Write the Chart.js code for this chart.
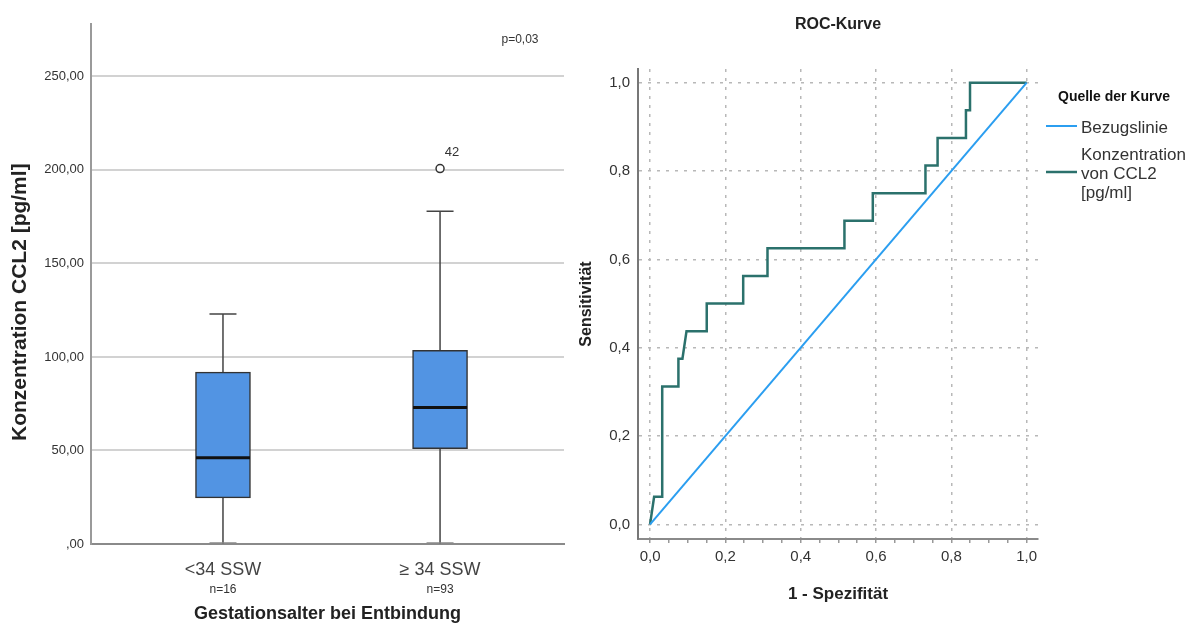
<!DOCTYPE html>
<html>
<head>
<meta charset="utf-8">
<script src="https://cdn.jsdelivr.net/npm/chart.js@4/dist/chart.umd.min.js"></script>
<style>
  body { margin: 0; background: #fff; width: 1188px; height: 626px; overflow: hidden; position: relative; }
  canvas { position: absolute; top: 0; }
  #box { left: 0; }
  #roc { left: 570px; }
</style>
</head>
<body>
<canvas id="box" width="580" height="626"></canvas>
<canvas id="roc" width="618" height="626"></canvas>
<script>
// Boxplot: CCL2 by gestational age
const groups = ['<34 SSW', '\u2265 34 SSW'];
const groupN = ['n=16', 'n=93'];
const groupPos = [1, 2];
const boxMin = [0, 0];
const boxQ1 = [24.7, 50.9];
const boxMedian = [46.1, 73.0];
const boxQ3 = [91.9, 103.6];
const boxMax = [122.9, 177.9];
const outlierGroup = [2];
const outlierValues = [200.7];
const outlierLabels = ['42'];
const boxTicks = [0, 50, 100, 150, 200, 250];
const pValueText = 'p=0,03';
const boxYTitle = 'Konzentration CCL2 [pg/ml]';

// ROC curve
const rocFpr = [0, 0.0108, 0.0323, 0.0323, 0.0753, 0.0753, 0.0860, 0.0968, 0.1505, 0.1505,
  0.2473, 0.2473, 0.3118, 0.3118, 0.5161, 0.5161, 0.5914, 0.5914, 0.7312, 0.7312,
  0.7634, 0.7634, 0.8387, 0.8387, 0.8495, 0.8495, 1.0];
const rocTpr = [0, 0.0625, 0.0625, 0.3125, 0.3125, 0.375, 0.375, 0.4375, 0.4375, 0.5,
  0.5, 0.5625, 0.5625, 0.625, 0.625, 0.6875, 0.6875, 0.75, 0.75, 0.8125,
  0.8125, 0.875, 0.875, 0.9375, 0.9375, 1.0, 1.0];
const refFpr = [0, 1];
const refTpr = [0, 1];
const rocTicks = [0, 0.2, 0.4, 0.6, 0.8, 1.0];
const rocMinorTicks = [0, 0.05, 0.1, 0.15, 0.2, 0.25, 0.3, 0.35, 0.4, 0.45, 0.5,
  0.55, 0.6, 0.65, 0.7, 0.75, 0.8, 0.85, 0.9, 0.95, 1.0];
const legendTitle = 'Quelle der Kurve';
const legendRef = 'Bezugslinie';
const legendRoc = ['Konzentration', 'von CCL2', '[pg/ml]'];

const FONT = "'Liberation Sans', Arial, sans-serif";
Chart.defaults.font.family = FONT;
Chart.defaults.color = '#333';

const BOX_FILL = '#5294e3';
const ROC_COLOR = '#2b716c';
const REF_COLOR = '#2b9ef0';

const commaFmt = (v, digits) => {
  if (v === 0 && digits === 2) return ',00';
  return v.toFixed(digits).replace('.', ',');
};

// whiskers behind the boxes, median and labels on top
const boxExtras = {
  id: 'boxExtras',
  beforeDatasetsDraw(chart) {
    const { ctx, scales: { x, y } } = chart;
    ctx.save();
    ctx.strokeStyle = '#444';
    ctx.lineWidth = 1.5;
    groupPos.forEach((g, i) => {
      const px = x.getPixelForValue(g);
      const yLo = y.getPixelForValue(boxMin[i]);
      const yHi = y.getPixelForValue(boxMax[i]);
      ctx.beginPath();
      ctx.moveTo(px, yLo);
      ctx.lineTo(px, yHi);
      ctx.moveTo(px - 13.5, yHi);
      ctx.lineTo(px + 13.5, yHi);
      ctx.stroke();
      ctx.save();
      ctx.strokeStyle = '#888';
      ctx.beginPath();
      ctx.moveTo(px - 13.5, yLo - 1);
      ctx.lineTo(px + 13.5, yLo - 1);
      ctx.stroke();
      ctx.restore();
    });
    ctx.restore();
  },
  afterDatasetsDraw(chart) {
    const { ctx, chartArea, scales: { x, y } } = chart;
    ctx.save();
    ctx.strokeStyle = '#111';
    ctx.lineWidth = 3;
    groupPos.forEach((g, i) => {
      const px = x.getPixelForValue(g);
      const py = y.getPixelForValue(boxMedian[i]);
      ctx.beginPath();
      ctx.moveTo(px - 27, py);
      ctx.lineTo(px + 27, py);
      ctx.stroke();
    });
    ctx.fillStyle = '#333';
    ctx.textAlign = 'center';
    ctx.textBaseline = 'middle';
    ctx.font = '12px ' + FONT;
    groupPos.forEach((g, i) => {
      ctx.fillText(groupN[i], x.getPixelForValue(g), chartArea.bottom + 46);
    });
    ctx.font = '13px ' + FONT;
    outlierValues.forEach((v, i) => {
      ctx.fillText(outlierLabels[i], x.getPixelForValue(outlierGroup[i]) + 12, y.getPixelForValue(v) - 16);
    });
    ctx.font = '12px ' + FONT;
    ctx.fillText(pValueText, chartArea.right - 44, chartArea.top + 16);

    // y axis title, sitting a bit below the plot centre as in SPSS output
    ctx.save();
    ctx.translate(20, chartArea.top + chartArea.height * 0.535);
    ctx.rotate(-Math.PI / 2);
    ctx.fillStyle = '#222';
    ctx.font = 'bold 21px ' + FONT;
    ctx.fillText(boxYTitle, 0, 0);
    ctx.restore();
    ctx.restore();
  }
};

new Chart(document.getElementById('box'), {
  type: 'bar',
  data: {
    datasets: [
      {
        type: 'scatter',
        data: outlierValues.map((v, i) => ({ x: outlierGroup[i], y: v })),
        pointRadius: 4,
        pointBorderWidth: 1.5,
        pointBackgroundColor: '#fff',
        pointBorderColor: '#333',
      },
      {
        type: 'bar',
        data: groupPos.map((g, i) => ({ x: g, y: [boxQ1[i], boxQ3[i]] })),
        backgroundColor: BOX_FILL,
        borderColor: '#333',
        borderWidth: 1.5,
        borderSkipped: false,
        barThickness: 55,
      },
    ],
  },
  options: {
    responsive: false,
    animation: false,
    layout: { padding: { top: 24, right: 16 } },
    plugins: { legend: { display: false }, tooltip: { enabled: false } },
    scales: {
      x: {
        type: 'linear',
        min: 0.392,
        max: 2.571,
        offset: false,
        afterBuildTicks: (s) => { s.ticks = groupPos.map((v) => ({ value: v })); },
        afterFit: (s) => { s.height = 82; },
        grid: { display: false, drawTicks: false },
        border: { display: true, color: '#8a8a8a', width: 2 },
        ticks: {
          autoSkip: false,
          maxRotation: 0,
          padding: 15,
          font: { size: 18 },
          color: '#444',
          callback: (v) => groups[groupPos.indexOf(v)],
        },
        title: {
          display: true,
          text: 'Gestationsalter bei Entbindung',
          font: { size: 18, weight: 'bold' },
          color: '#222',
          padding: { top: 0, bottom: 1 },
        },
      },
      y: {
        min: 0,
        max: 278,
        afterBuildTicks: (s) => { s.ticks = boxTicks.map((v) => ({ value: v })); },
        afterFit: (s) => { s.width = 91; },
        grid: {
          drawTicks: false,
          lineWidth: 2,
          color: (c) => (c.tick && c.tick.value === 0 ? 'transparent' : '#d2d2d2'),
        },
        border: { display: true, color: '#9a9a9a', width: 2 },
        ticks: {
          padding: 7,
          font: { size: 13 },
          color: '#333',
          callback: (v) => commaFmt(v, 2),
        },
        title: { display: false },
      },
    },
  },
  plugins: [boxExtras],
});

// legend on the right side of the ROC plot
const rocLegend = {
  id: 'rocLegend',
  afterDraw(chart) {
    const { ctx, chartArea } = chart;
    const r = chartArea.right;
    const t = chartArea.top;
    ctx.save();
    ctx.textBaseline = 'middle';
    ctx.textAlign = 'left';
    ctx.fillStyle = '#111';
    ctx.font = 'bold 14px ' + FONT;
    ctx.fillText(legendTitle, r + 20, t + 28);
    ctx.lineWidth = 2;
    ctx.strokeStyle = REF_COLOR;
    ctx.beginPath();
    ctx.moveTo(r + 8, t + 57);
    ctx.lineTo(r + 39, t + 57);
    ctx.stroke();
    ctx.lineWidth = 2.5;
    ctx.strokeStyle = ROC_COLOR;
    ctx.beginPath();
    ctx.moveTo(r + 8, t + 103);
    ctx.lineTo(r + 39, t + 103);
    ctx.stroke();
    ctx.fillStyle = '#333';
    ctx.font = '17px ' + FONT;
    ctx.fillText(legendRef, r + 43, t + 59);
    legendRoc.forEach((line, i) => ctx.fillText(line, r + 43, t + 86 + i * 19));
    ctx.restore();
  }
};

const isMajor = (v) => rocTicks.some((m) => Math.abs(m - v) < 1e-6);

new Chart(document.getElementById('roc'), {
  type: 'scatter',
  data: {
    datasets: [
      {
        label: legendRef,
        data: refFpr.map((v, i) => ({ x: v, y: refTpr[i] })),
        showLine: true,
        borderColor: REF_COLOR,
        borderWidth: 2,
        pointRadius: 0,
        tension: 0,
      },
      {
        label: legendRoc.join(' '),
        data: rocFpr.map((v, i) => ({ x: v, y: rocTpr[i] })),
        showLine: true,
        borderColor: ROC_COLOR,
        borderWidth: 2.5,
        pointRadius: 0,
        tension: 0,
      },
    ],
  },
  options: {
    responsive: false,
    animation: false,
    layout: { padding: { right: 150 } },
    plugins: {
      legend: { display: false },
      tooltip: { enabled: false },
      title: {
        display: true,
        text: 'ROC-Kurve',
        fullSize: false,
        color: '#222',
        font: { size: 16, weight: 'bold' },
        padding: { top: 15.4, bottom: 34.4 },
      },
    },
    scales: {
      x: {
        type: 'linear',
        min: -0.032,
        max: 1.03,
        afterBuildTicks: (s) => { s.ticks = rocMinorTicks.map((v) => ({ value: v })); },
        afterFit: (s) => { s.height = 87; },
        grid: {
          lineWidth: 1.5,
          color: (c) => (c.tick && isMajor(c.tick.value) ? '#b8b8b8' : 'transparent'),
          tickColor: '#999',
          tickLength: 4,
          tickWidth: 1.5,
        },
        border: { display: true, color: '#8a8a8a', width: 2, dash: [3, 6] },
        ticks: {
          autoSkip: false,
          maxRotation: 0,
          padding: 5,
          font: { size: 15 },
          color: '#333',
          callback: (v) => (isMajor(v) ? commaFmt(v, 1) : ''),
        },
        title: {
          display: true,
          text: '1 - Spezifit\u00e4t',
          font: { size: 17, weight: 'bold' },
          color: '#222',
          padding: { top: 0, bottom: 21 },
        },
      },
      y: {
        min: -0.033,
        max: 1.031,
        afterBuildTicks: (s) => { s.ticks = rocTicks.map((v) => ({ value: v })); },
        afterFit: (s) => { s.width = 68; },
        grid: {
          lineWidth: 1.5,
          color: '#b8b8b8',
          drawTicks: false,
        },
        border: { display: true, color: '#777', width: 2, dash: [3, 6] },
        ticks: {
          padding: 8,
          font: { size: 15 },
          color: '#333',
          callback: (v) => commaFmt(v, 1),
        },
        title: {
          display: true,
          text: 'Sensitivit\u00e4t',
          font: { size: 16, weight: 'bold' },
          color: '#222',
          padding: { top: 7, bottom: 0 },
        },
      },
    },
  },
  plugins: [rocLegend],
});
</script>
</body>
</html>
